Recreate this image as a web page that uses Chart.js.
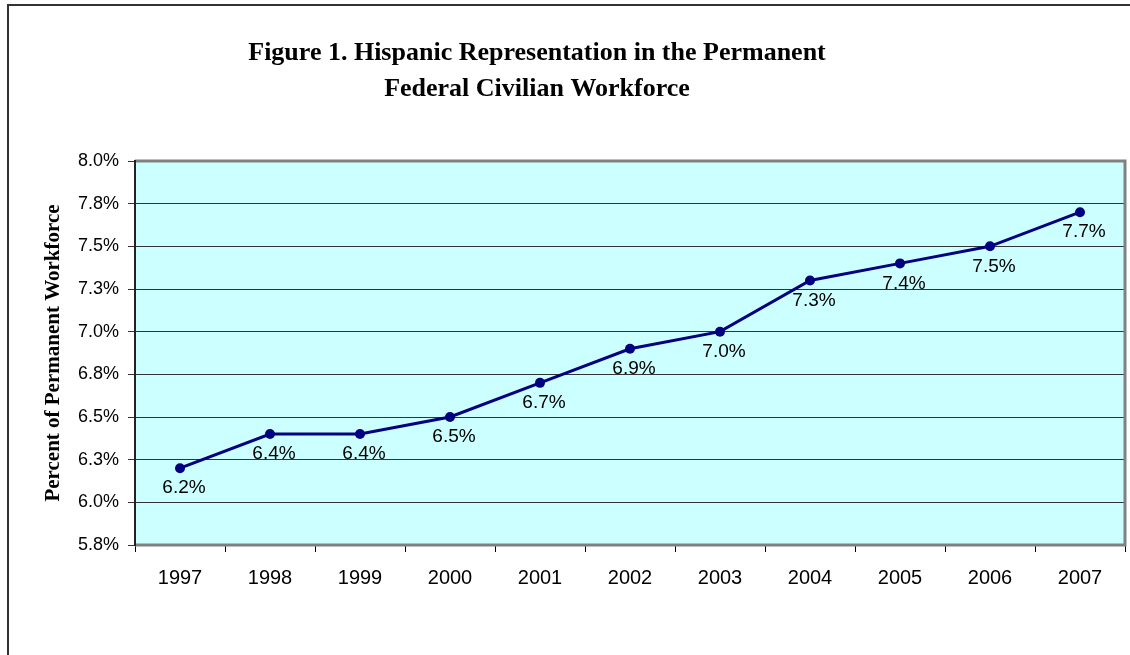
<!DOCTYPE html>
<html>
<head>
<meta charset="utf-8">
<script src="https://cdn.jsdelivr.net/npm/chart.js@4"></script>
<style>
  html, body { margin: 0; padding: 0; background: #fff; }
  #wrap { width: 1130px; height: 655px; }
</style>
</head>
<body>
<div id="wrap"><canvas id="chart" width="1130" height="655"></canvas></div>
<script>
// chart data
const years = ['1997', '1998', '1999', '2000', '2001', '2002', '2003', '2004', '2005', '2006', '2007'];
const hispanicPct = [6.2, 6.4, 6.4, 6.5, 6.7, 6.9, 7.0, 7.3, 7.4, 7.5, 7.7];
const yMin = 5.75;
const yMax = 8.0;
const yStep = 0.25;
const titleLines = ['Figure 1. Hispanic Representation in the Permanent', 'Federal Civilian Workforce'];
const yTitle = 'Percent of Permanent Workforce';

// frame, plot background, title and point labels (Excel look)
const excelLook = {
    id: 'excelLook',
    beforeDraw(chart) {
        const { ctx, chartArea: a } = chart;
        ctx.save();
        ctx.fillStyle = '#ccffff';
        ctx.fillRect(a.left, a.top, a.right - a.left, a.bottom - a.top);
        // outer border of the chart object
        ctx.strokeStyle = '#333';
        ctx.lineWidth = 2;
        ctx.beginPath();
        ctx.moveTo(8, 700);
        ctx.lineTo(8, 5);
        ctx.lineTo(1140, 5);
        ctx.stroke();
        // title
        ctx.fillStyle = '#000';
        ctx.font = 'bold 26px "Liberation Serif", "Times New Roman", serif';
        ctx.textAlign = 'center';
        ctx.textBaseline = 'alphabetic';
        ctx.fillText(titleLines[0], 537, 60);
        ctx.fillText(titleLines[1], 537, 96);
        ctx.restore();
    },
    beforeDatasetsDraw(chart) {
        const { ctx, chartArea: a } = chart;
        ctx.save();
        ctx.strokeStyle = '#808080';
        ctx.lineWidth = 3;
        ctx.beginPath();
        ctx.moveTo(a.left, a.top);
        ctx.lineTo(a.right, a.top);
        ctx.lineTo(a.right, a.bottom);
        ctx.lineTo(a.left, a.bottom);
        ctx.stroke();
        ctx.strokeStyle = '#222';
        ctx.lineWidth = 2;
        ctx.beginPath();
        ctx.moveTo(a.left, a.top - 1);
        ctx.lineTo(a.left, a.bottom + 1);
        ctx.stroke();
        ctx.restore();
    },
    afterDatasetsDraw(chart) {
        const { ctx } = chart;
        const meta = chart.getDatasetMeta(0);
        ctx.save();
        ctx.fillStyle = '#000';
        ctx.font = '19px "Liberation Sans", Arial, sans-serif';
        ctx.textAlign = 'center';
        ctx.textBaseline = 'middle';
        meta.data.forEach((pt, i) => {
            ctx.fillText(hispanicPct[i].toFixed(1) + '%', pt.x + 4, pt.y + 20);
        });
        ctx.restore();
    }
};

const ctx = document.getElementById('chart').getContext('2d');
new Chart(ctx, {
    type: 'line',
    data: {
        labels: years,
        datasets: [{
            label: 'Hispanic %',
            data: hispanicPct,
            borderColor: '#000080',
            backgroundColor: '#000080',
            borderWidth: 3,
            pointRadius: 5,
            pointBackgroundColor: '#000080',
            pointBorderWidth: 0,
            tension: 0
        }]
    },
    options: {
        responsive: false,
        animation: false,
        layout: { padding: { top: 161, right: 4, bottom: 0, left: 0 } },
        plugins: {
            legend: { display: false },
            title: { display: false },
            tooltip: { enabled: false }
        },
        scales: {
            x: {
                offset: true,
                grid: {
                    offset: true,
                    drawOnChartArea: false,
                    drawTicks: true,
                    tickLength: 7,
                    color: '#000',
                    lineWidth: 1
                },
                border: { display: false },
                ticks: {
                    color: '#000',
                    padding: 14,
                    maxRotation: 0,
                    font: { family: '"Liberation Sans", Arial, sans-serif', size: 20 }
                },
                afterFit(scale) { scale.height = 110; }
            },
            y: {
                min: yMin,
                max: yMax,
                grid: {
                    color: '#333',
                    lineWidth: 1,
                    tickLength: 7
                },
                border: { display: false },
                ticks: {
                    stepSize: yStep,
                    color: '#000',
                    padding: 9,
                    font: { family: '"Liberation Sans", Arial, sans-serif', size: 18 },
                    callback: v => v.toFixed(1) + '%'
                },
                title: {
                    display: true,
                    text: yTitle,
                    color: '#000',
                    padding: { top: 41, bottom: 0 },
                    font: { family: '"Liberation Serif", "Times New Roman", serif', size: 21, weight: 'bold' }
                },
                afterFit(scale) { scale.width = 135; }
            }
        }
    },
    plugins: [excelLook]
});
</script>
</body>
</html>
